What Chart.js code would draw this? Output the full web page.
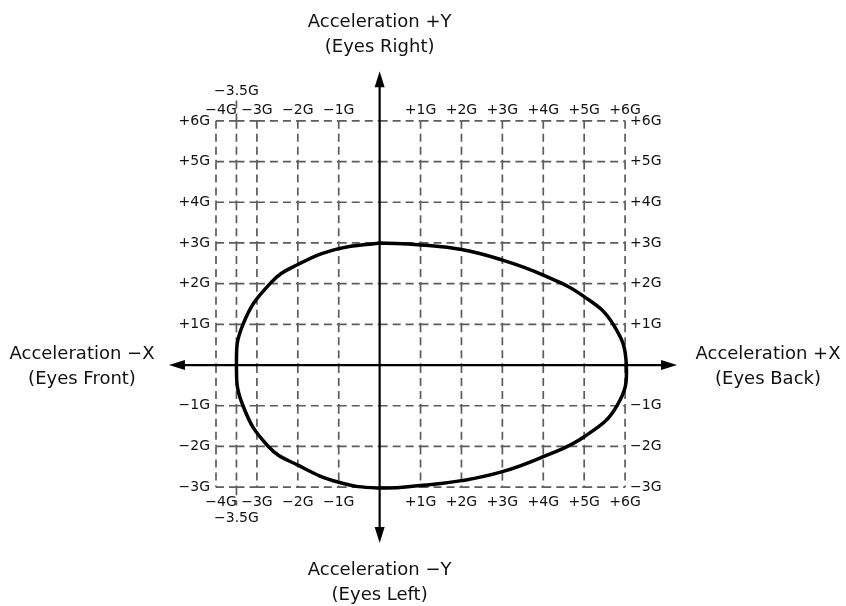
<!DOCTYPE html>
<html>
<head>
<meta charset="utf-8">
<script src="https://cdn.jsdelivr.net/npm/chart.js@4/dist/chart.umd.min.js"></script>
<style>
  html, body { margin: 0; padding: 0; background: #fff; }
  #wrap { width: 846px; height: 606px; }
</style>
</head>
<body>
<div id="wrap"><canvas id="gChart" width="846" height="606"></canvas></div>
<script>
// grid lines (in G)
const xGrid = [-4, -3.5, -3, -2, -1, 1, 2, 3, 4, 5, 6];
const yGrid = [-3, -2, -1, 1, 2, 3, 4, 5, 6];

// tick labels
const xTickVals = [-4, -3, -2, -1, 1, 2, 3, 4, 5, 6];
const xTickLabels = ['−4G', '−3G', '−2G', '−1G', '+1G', '+2G', '+3G', '+4G', '+5G', '+6G'];
const yTickVals = [-3, -2, -1, 1, 2, 3, 4, 5, 6];
const yTickLabels = ['−3G', '−2G', '−1G', '+1G', '+2G', '+3G', '+4G', '+5G', '+6G'];
const extraXVal = -3.5;
const extraXLabel = '−3.5G';

// axis titles
const topTitle = ['Acceleration +Y', '(Eyes Right)'];
const bottomTitle = ['Acceleration −Y', '(Eyes Left)'];
const leftTitle = ['Acceleration −X', '(Eyes Front)'];
const rightTitle = ['Acceleration +X', '(Eyes Back)'];

// envelope (clockwise from the top)
const envX = [0, 1, 2, 3, 4, 5, 5.71, 6.03, 5.8, 5, 4, 3, 2, 1, 0, -1, -2, -2.72, -3.34, -3.5, -3.34, -2.68, -2, -1, 0];
const envY = [3.0, 2.95, 2.84, 2.58, 2.21, 1.68, 1.0, 0, -1, -1.76, -2.25, -2.62, -2.84, -2.96, -3.02, -2.88, -2.46, -2, -1, 0, 1, 2, 2.47, 2.86, 3.0];

const envelope = envX.map((x, i) => ({ x: x, y: envY[i] }));

const FONT = '"DejaVu Sans", Verdana, sans-serif';

const gridPlugin = {
  id: 'gridPlugin',
  beforeDatasetsDraw(chart) {
    const ctx = chart.ctx;
    const xs = chart.scales.x, ys = chart.scales.y;
    const px = v => xs.getPixelForValue(v);
    const py = v => ys.getPixelForValue(v);
    const xStops = [-4, -3.5, -3, -2, -1, 0, 1, 2, 3, 4, 5, 6];
    const yStops = [-3, -2, -1, 0, 1, 2, 3, 4, 5, 6];

    ctx.save();
    ctx.strokeStyle = '#5c5c5c';
    ctx.lineWidth = 1.7;
    ctx.setLineDash([8, 5]);
    // horizontal dashed lines, one segment per cell
    yGrid.forEach(gy => {
      for (let i = 0; i < xStops.length - 1; i++) {
        ctx.beginPath();
        ctx.moveTo(px(xStops[i]), py(gy));
        ctx.lineTo(px(xStops[i + 1]), py(gy));
        ctx.stroke();
      }
    });
    // vertical dashed lines
    xGrid.forEach(gx => {
      let stops = yStops.slice();
      if (gx === extraXVal) stops = [-3.45].concat(stops, [6.5]);
      for (let i = 0; i < stops.length - 1; i++) {
        ctx.beginPath();
        ctx.moveTo(px(gx), py(stops[i + 1]));
        ctx.lineTo(px(gx), py(stops[i]));
        ctx.stroke();
      }
    });
    ctx.setLineDash([]);

    // axes with arrows
    ctx.strokeStyle = '#000';
    ctx.fillStyle = '#000';
    ctx.lineWidth = 2.2;
    const x0 = px(0), y0 = py(0);
    const xl = px(-5.15), xr = px(7.27), yt = py(7.22), yb = py(-4.37);
    ctx.beginPath();
    ctx.moveTo(xl + 6, y0); ctx.lineTo(xr - 6, y0);
    ctx.moveTo(x0, yt + 6); ctx.lineTo(x0, yb - 6);
    ctx.stroke();
    const L = 16, W = 5;
    ctx.beginPath();
    ctx.moveTo(xl, y0); ctx.lineTo(xl + L, y0 - W); ctx.lineTo(xl + L, y0 + W); ctx.closePath();
    ctx.moveTo(xr, y0); ctx.lineTo(xr - L, y0 - W); ctx.lineTo(xr - L, y0 + W); ctx.closePath();
    ctx.moveTo(x0, yt); ctx.lineTo(x0 - W, yt + L); ctx.lineTo(x0 + W, yt + L); ctx.closePath();
    ctx.moveTo(x0, yb); ctx.lineTo(x0 - W, yb - L); ctx.lineTo(x0 + W, yb - L); ctx.closePath();
    ctx.fill();

    // tick labels
    ctx.fillStyle = '#111';
    ctx.font = '14px ' + FONT;
    ctx.textBaseline = 'middle';
    ctx.textAlign = 'center';
    const topY = py(6) - 11, botY = py(-3) + 15;
    xTickVals.forEach((v, i) => {
      const shift = v === -4 ? 5 : 0;
      ctx.fillText(xTickLabels[i], px(v) + shift, topY);
      ctx.fillText(xTickLabels[i], px(v) + shift, botY);
    });
    ctx.fillText(extraXLabel, px(extraXVal), py(6) - 30);
    ctx.fillText(extraXLabel, px(extraXVal), py(-3) + 31);
    ctx.textAlign = 'right';
    yTickVals.forEach((v, i) => ctx.fillText(yTickLabels[i], px(-4) - 6, py(v)));
    ctx.textAlign = 'left';
    yTickVals.forEach((v, i) => ctx.fillText(yTickLabels[i], px(6) + 5, py(v)));

    // axis titles
    ctx.font = '18px ' + FONT;
    ctx.textAlign = 'center';
    const two = (lines, cx, cy) => {
      ctx.fillText(lines[0], cx, cy);
      ctx.fillText(lines[1], cx, cy + 25);
    };
    two(topTitle, x0, 22);
    two(bottomTitle, x0, 570);
    two(leftTitle, 82, 354);
    two(rightTitle, 768, 354);
    ctx.restore();
  }
};

new Chart(document.getElementById('gChart'), {
  type: 'scatter',
  data: {
    datasets: [{
      data: envelope,
      showLine: true,
      borderColor: '#000',
      borderWidth: 3.5,
      pointRadius: 0,
      tension: 0.45,
      fill: false
    }]
  },
  options: {
    responsive: false,
    animation: false,
    layout: { padding: 0 },
    plugins: { legend: { display: false }, tooltip: { enabled: false } },
    scales: {
      x: { type: 'linear', min: -9.28, max: 11.40, display: false },
      y: { type: 'linear', min: -5.92, max: 8.97, display: false }
    }
  },
  plugins: [gridPlugin]
});
</script>
</body>
</html>
